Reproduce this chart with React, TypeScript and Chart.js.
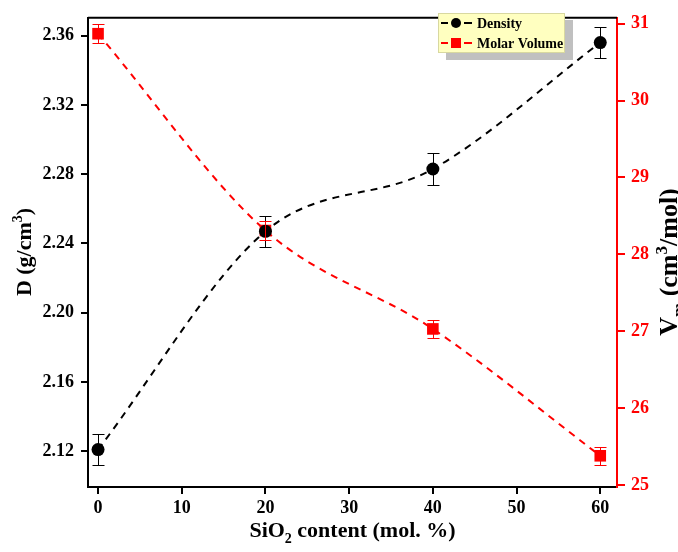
import React, { useEffect, useRef } from "react";
import { Chart, registerables } from "chart.js";

Chart.register(...registerables);

const sio2Content = [0, 20, 40, 60];
const density = [2.121, 2.247, 2.283, 2.356];
const densityErr = [0.009, 0.009, 0.009, 0.009];
const molarVolume = [30.87, 28.31, 27.03, 25.38];
const molarErr = [0.12, 0.12, 0.12, 0.12];
const legendLabels = ["Density", "Molar Volume"];

const SERIF = '"Liberation Serif", "Times New Roman", serif';

function drawRich(ctx: CanvasRenderingContext2D, parts: { t: string; k: "n" | "sup" | "sub" }[], size: number) {
  const small = Math.round(size * 0.65);
  let w = 0;
  for (const p of parts) {
    ctx.font = `bold ${p.k === "n" ? size : small}px ${SERIF}`;
    w += ctx.measureText(p.t).width;
  }
  let x = -w / 2;
  for (const p of parts) {
    ctx.font = `bold ${p.k === "n" ? size : small}px ${SERIF}`;
    const dy = p.k === "sup" ? -size * 0.4 : p.k === "sub" ? size * 0.25 : 0;
    ctx.fillText(p.t, x, dy);
    x += ctx.measureText(p.t).width;
  }
}

const customPlugin = {
  id: "custom",
  afterDatasetsDraw(chart: any) {
    const ctx = chart.ctx as CanvasRenderingContext2D;
    const xs = chart.scales.x;
    const yl = chart.scales.y;
    const yr = chart.scales.y2;
    const bars = [
      { vals: density, errs: densityErr, scale: yl, color: "#000000" },
      { vals: molarVolume, errs: molarErr, scale: yr, color: "#ff0000" },
    ];
    ctx.save();
    ctx.lineWidth = 1;
    for (const b of bars) {
      ctx.strokeStyle = b.color;
      b.vals.forEach((v, i) => {
        const px = Math.round(xs.getPixelForValue(sio2Content[i])) + 0.5;
        const top = Math.round(b.scale.getPixelForValue(v + b.errs[i])) + 0.5;
        const bot = Math.round(b.scale.getPixelForValue(v - b.errs[i])) + 0.5;
        ctx.beginPath();
        ctx.moveTo(px, top);
        ctx.lineTo(px, bot);
        ctx.moveTo(px - 6, top);
        ctx.lineTo(px + 6, top);
        ctx.moveTo(px - 6, bot);
        ctx.lineTo(px + 6, bot);
        ctx.stroke();
      });
    }
    ctx.restore();
  },
  afterDraw(chart: any) {
    const ctx = chart.ctx as CanvasRenderingContext2D;
    const a = chart.chartArea;
    ctx.save();
    ctx.strokeStyle = "#000";
    ctx.lineWidth = 2;
    ctx.beginPath();
    ctx.moveTo(a.left, a.top);
    ctx.lineTo(a.right, a.top);
    ctx.stroke();

    // legend
    const lx = 438, ly = 13, lw = 127, lh = 40;
    ctx.fillStyle = "#c0c0c0";
    ctx.fillRect(lx + 8, ly + 7, lw, lh);
    ctx.fillStyle = "#ffffc0";
    ctx.fillRect(lx, ly, lw, lh);
    ctx.strokeStyle = "#d8d8a0";
    ctx.lineWidth = 1;
    ctx.strokeRect(lx + 0.5, ly + 0.5, lw - 1, lh - 1);
    const rows = [
      { y: 23, color: "#000", shape: "circle" },
      { y: 43, color: "#ff0000", shape: "square" },
    ];
    rows.forEach((r, i) => {
      ctx.strokeStyle = r.color;
      ctx.lineWidth = 2;
      ctx.beginPath();
      ctx.moveTo(441, r.y);
      ctx.lineTo(448, r.y);
      ctx.moveTo(464, r.y);
      ctx.lineTo(472, r.y);
      ctx.stroke();
      ctx.fillStyle = r.color;
      if (r.shape === "circle") {
        ctx.beginPath();
        ctx.arc(456, r.y, 5, 0, Math.PI * 2);
        ctx.fill();
      } else {
        ctx.fillRect(451, r.y - 5, 10, 10);
      }
      ctx.fillStyle = "#000";
      ctx.font = `bold 14px ${SERIF}`;
      ctx.textBaseline = "middle";
      ctx.textAlign = "left";
      ctx.fillText(legendLabels[i], 477, r.y + 1);
    });

    ctx.textAlign = "left";
    ctx.textBaseline = "alphabetic";
    ctx.fillStyle = "#000";
    ctx.save();
    ctx.translate((a.left + a.right) / 2, 537);
    drawRich(ctx, [
      { t: "SiO", k: "n" },
      { t: "2", k: "sub" },
      { t: " content (mol. %)", k: "n" },
    ], 22);
    ctx.restore();
    ctx.save();
    ctx.translate(31, 252);
    ctx.rotate(-Math.PI / 2);
    drawRich(ctx, [
      { t: "D (g/cm", k: "n" },
      { t: "3", k: "sup" },
      { t: ")", k: "n" },
    ], 22);
    ctx.restore();
    ctx.save();
    ctx.translate(677, 262);
    ctx.rotate(-Math.PI / 2);
    drawRich(ctx, [
      { t: "V", k: "n" },
      { t: "m", k: "sub" },
      { t: " (cm", k: "n" },
      { t: "3", k: "sup" },
      { t: "/mol)", k: "n" },
    ], 26);
    ctx.restore();
    ctx.restore();
  },
};

export default function App() {
  const ref = useRef<HTMLCanvasElement | null>(null);
  useEffect(() => {
    if (!ref.current) return;
    const tickFont = { family: SERIF, size: 18, weight: "bold" as const };
    const chart = new Chart(ref.current, {
      type: "line",
      data: {
        datasets: [
          {
            label: legendLabels[0],
            data: sio2Content.map((x, i) => ({ x, y: density[i] })),
            yAxisID: "y",
            borderColor: "#000",
            backgroundColor: "#000",
            borderWidth: 2,
            borderDash: [7, 6],
            pointStyle: "circle",
            pointRadius: 6.5,
            pointHoverRadius: 6.5,
            pointBorderWidth: 0,
            cubicInterpolationMode: "monotone",
            clip: false,
          },
          {
            label: legendLabels[1],
            data: sio2Content.map((x, i) => ({ x, y: molarVolume[i] })),
            yAxisID: "y2",
            borderColor: "#ff0000",
            backgroundColor: "#ff0000",
            borderWidth: 2,
            borderDash: [7, 6],
            pointStyle: "rect",
            pointRadius: 8.2,
            pointHoverRadius: 8.2,
            pointBorderWidth: 0,
            cubicInterpolationMode: "monotone",
            clip: false,
          },
        ],
      },
      options: {
        responsive: false,
        animation: false,
        events: [],
        layout: { padding: { top: 13, left: 0, right: 0, bottom: 0 } },
        plugins: { legend: { display: false }, tooltip: { enabled: false } },
        scales: {
          x: {
            type: "linear",
            min: -1.2,
            max: 62,
            border: { display: true, color: "#000", width: 2 },
            grid: { drawOnChartArea: false, drawTicks: true, tickLength: 7, color: "#000", lineWidth: 2 },
            ticks: {
              stepSize: 10,
              includeBounds: false,
              color: "#000",
              font: tickFont,
              padding: 4,
              maxRotation: 0,
            },
            afterFit: (s: any) => { s.height = 65; },
          },
          y: {
            type: "linear",
            position: "left",
            min: 2.0994,
            max: 2.3703,
            border: { display: true, color: "#000", width: 2 },
            grid: { drawOnChartArea: false, drawTicks: true, tickLength: 7, color: "#000", lineWidth: 2 },
            ticks: {
              stepSize: 0.04,
              includeBounds: false,
              color: "#000",
              font: tickFont,
              padding: 7,
              callback: (v: any) => Number(v).toFixed(2),
            },
            afterFit: (s: any) => { s.width = 88; },
          },
          y2: {
            type: "linear",
            position: "right",
            min: 24.974,
            max: 31.077,
            border: { display: true, color: "#ff0000", width: 2 },
            grid: { drawOnChartArea: false, drawTicks: true, tickLength: 8, color: "#ff0000", lineWidth: 2 },
            ticks: {
              stepSize: 1,
              includeBounds: false,
              color: "#ff0000",
              font: tickFont,
              padding: 6,
              callback: (v: any) => String(Math.round(Number(v))),
            },
            afterFit: (s: any) => { s.width = 61; },
          },
        },
      },
      plugins: [customPlugin],
    } as any);
    return () => chart.destroy();
  }, []);
  return (
    <div style={{ position: "fixed", left: 0, top: 0, width: 678, height: 552, background: "#fff" }}>
      <canvas ref={ref} width={678} height={552} style={{ display: "block", width: 678, height: 552 }} />
    </div>
  );
}
